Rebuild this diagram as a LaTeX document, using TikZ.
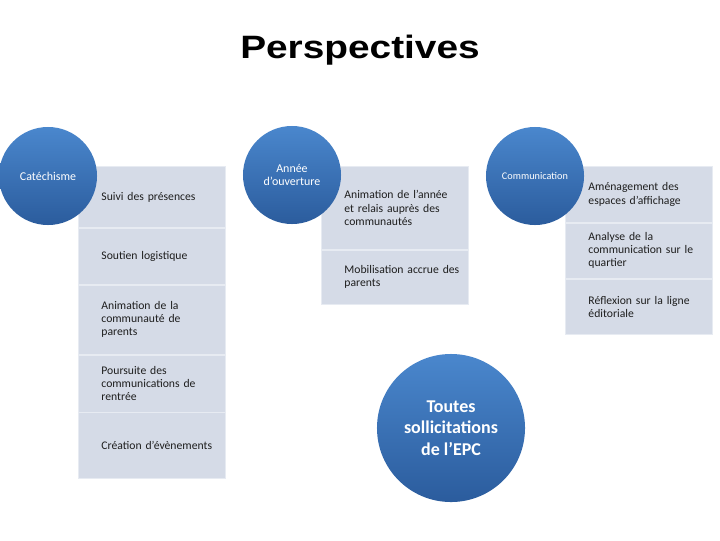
\documentclass[tikz,border=0pt]{standalone}
\usepackage{fontspec}
\setmainfont{Carlito}
\newfontfamily\titlefont{Liberation Sans}
\definecolor{circtop}{HTML}{4A87CD}
\definecolor{circbottom}{HTML}{2B5C9D}
\definecolor{panelfill}{HTML}{D5DBE7}
\definecolor{panelline}{HTML}{E7EBF2}
\definecolor{textdark}{HTML}{1E1E1E}

\begin{document}
\begin{tikzpicture}[
    x=0.025cm, y=-0.025cm,
    every node/.style={font=\fontsize{8.3}{9.3}\selectfont},
    topic/.style={circle, minimum size=2.45cm, inner sep=0pt, top color=circtop,
      bottom color=circbottom, text=white, align=center},
    item/.style={rectangle, anchor=north west, fill=panelfill, draw=panelline,
      line width=0.6pt, minimum width=3.675cm, text width=3.675cm,
      inner sep=0pt, align=left, text=textdark,
      execute at begin node={\leftskip=0.575cm}},
]

% Page
\useasboundingbox[fill=white] (0,0) rectangle (720,540);

% Title
\node[font=\titlefont\bfseries\fontsize{23}{27}\selectfont, xscale=1.2, anchor=base]
      (title) at (360,58) {Perspectives};

% --- Left: Catéchisme ---
\node[item, minimum height=1.525cm] (cat1) at (78,166) {Suivi des présences};
\node[item, minimum height=1.4cm] (cat2) at (cat1.south west) {Soutien logistique};
\node[item, minimum height=1.725cm] (cat3) at (cat2.south west) {Animation de la\\communauté de\\parents};
\node[item, minimum height=1.425cm] (cat4) at (cat3.south west) {Poursuite des\\communications de\\rentrée};
\node[item, minimum height=1.65cm] (cat5) at (cat4.south west) {Création d’évènements};

% --- Center: Année d'ouverture ---
\node[item, minimum height=2.075cm] (ann1) at (321,166) {Animation de l’année\\et relais auprès des\\communautés};
\node[item, minimum height=1.35cm] (ann2) at (ann1.south west) {Mobilisation accrue des\\parents};

% --- Right: Communication ---
\node[item, minimum height=1.4cm] (com1) at (565,166) {Aménagement des\\espaces d’affichage};
\node[item, minimum height=1.375cm] (com2) at (com1.south west) {Analyse de la\\communication sur le\\quartier};
\node[item, minimum height=1.375cm] (com3) at (com2.south west) {Réflexion sur la ligne\\éditoriale};

% --- Circles ---
\node[topic, font=\fontsize{8.5}{9.5}\selectfont] (cate) at (48,176) {Catéchisme};
\node[topic, font=\fontsize{8.5}{9.5}\selectfont] (annee) at (292,175) {Année\\d’ouverture};
\node[topic, font=\fontsize{7.3}{8.5}\selectfont] (comm) at (535,176) {Communication};
\node[topic, minimum size=3.7cm, font=\bfseries\fontsize{12.8}{15.2}\selectfont]
      (epc) at (451,428) {Toutes\\sollicitations\\de l’EPC};

\end{tikzpicture}
\end{document}
